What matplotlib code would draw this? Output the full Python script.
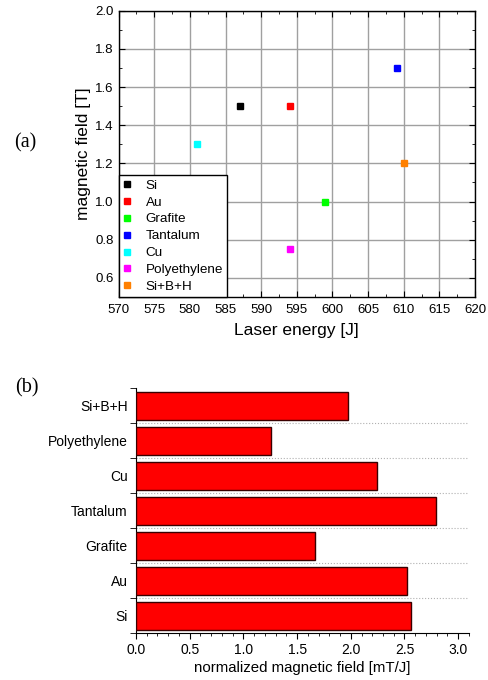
import numpy as np
import matplotlib
matplotlib.use("Agg")
import matplotlib.pyplot as plt
from matplotlib.ticker import MultipleLocator

plt.rcParams['font.family'] = ['Liberation Sans', 'DejaVu Sans']

# data
materials = ['Si', 'Au', 'Grafite', 'Tantalum', 'Cu', 'Polyethylene', 'Si+B+H']
laser_energy = [587, 594, 599, 609, 581, 594, 610]          # J
mag_field = [1.5, 1.5, 1.0, 1.7, 1.3, 0.75, 1.2]              # T
norm_field = [2.56, 2.52, 1.67, 2.79, 2.24, 1.26, 1.97]       # mT/J
colors = ['#000000', '#ff0000', '#00ff00', '#0000ff', '#00ffff', '#ff00ff', '#ff8000']

fig = plt.figure(figsize=(4.89, 6.8), dpi=100)

# --- (a) scatter ---
ax1 = fig.add_axes([0.2427, 0.5632, 0.7287, 0.4211])
for m, e, b, c in zip(materials, laser_energy, mag_field, colors):
    ax1.plot(e, b, 's', color=c, markersize=5, label=m, zorder=3)
ax1.set_xlim(570, 620)
ax1.set_ylim(0.5, 2.0)
ax1.xaxis.set_major_locator(MultipleLocator(5))
ax1.xaxis.set_minor_locator(MultipleLocator(2.5))
ax1.yaxis.set_minor_locator(MultipleLocator(0.1))
ax1.set_yticks(np.arange(0.6, 2.01, 0.2))
ax1.grid(True, which='major', color='#a0a0a0', linewidth=1.0)
ax1.tick_params(which='both', direction='in', top=True, right=True, labelsize=9.5)
ax1.tick_params(axis='x', which='major', pad=5)
ax1.tick_params(which='major', length=4)
ax1.tick_params(which='minor', length=2)
for s in ax1.spines.values():
    s.set_linewidth(1.0)
ax1.set_xlabel('Laser energy [J]', fontsize=12.5, labelpad=5)
ax1.set_ylabel('magnetic field [T]', fontsize=12.5, labelpad=3)
leg = ax1.legend(loc='lower left', fontsize=9.7, frameon=True, fancybox=False,
                 edgecolor='black', handlelength=0.7, handletextpad=1.0,
                 borderaxespad=0, labelspacing=0.33, borderpad=0.3, markerscale=0.9)
leg.get_frame().set_linewidth(1.0)
leg.get_frame().set_alpha(1)

# --- (b) bars ---
ax2 = fig.add_axes([0.278, 0.0686, 0.681, 0.3604])
ypos = np.arange(len(materials))
ax2.barh(ypos, norm_field, height=0.8, color='#ff0000', edgecolor='#3a0000',
         linewidth=1.0, zorder=3)
ax2.set_xlim(0, 3.1)
ax2.set_ylim(-0.5, len(materials) - 0.5)
ax2.set_yticks(ypos)
ax2.set_yticklabels(materials, fontsize=10)
ax2.set_yticks(np.arange(-0.5, len(materials), 1.0), minor=True)
ax2.tick_params(axis='y', which='major', length=0, pad=6)
ax2.tick_params(axis='y', which='minor', length=4, direction='out')
ax2.xaxis.set_major_locator(MultipleLocator(0.5))
ax2.xaxis.set_minor_locator(MultipleLocator(0.1))
ax2.tick_params(axis='x', which='major', length=4, direction='out', labelsize=10, pad=3)
ax2.tick_params(axis='x', which='minor', length=2, direction='out')
# dotted separators between categories
for yb in np.arange(0.5, len(materials) - 1, 1.0):
    ax2.axhline(yb, color='#b0b0b0', linestyle=':', linewidth=0.8, zorder=1)
ax2.spines['top'].set_visible(False)
ax2.spines['right'].set_visible(False)
ax2.set_xlabel('normalized magnetic field [mT/J]', fontsize=10.8, labelpad=3)

fig.text(0.052, 1 - 143 / 680, '(a)', fontsize=14.5, family='Liberation Serif',
         ha='center', va='center')
fig.text(0.054, 1 - 388 / 680, '(b)', fontsize=14.5, family='Liberation Serif',
         ha='center', va='center')

fig.savefig('out.png', dpi=100)
